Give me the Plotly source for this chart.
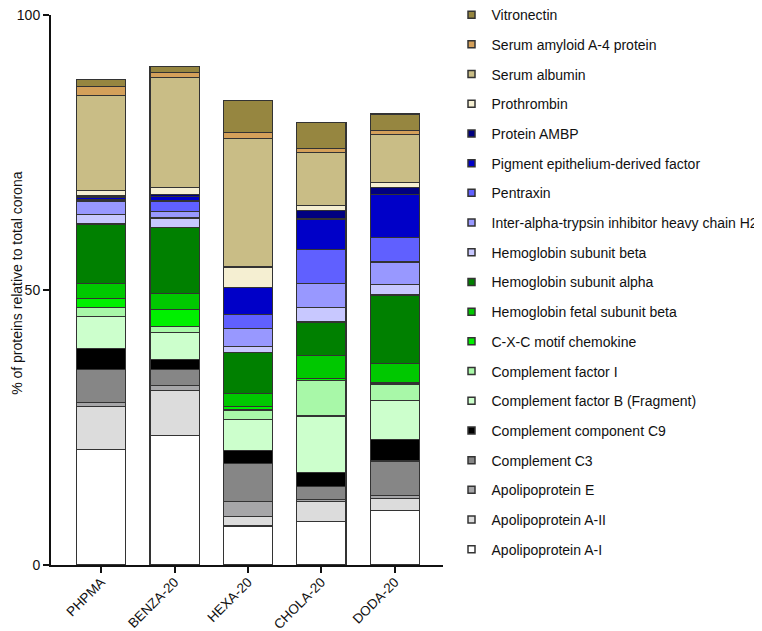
import plotly.graph_objects as go

categories = ["PHPMA", "BENZA-20", "HEXA-20", "CHOLA-20", "DODA-20"]

proteins = [
    "Apolipoprotein A-I",
    "Apolipoprotein A-II",
    "Apolipoprotein E",
    "Complement C3",
    "Complement component C9",
    "Complement factor B (Fragment)",
    "Complement factor I",
    "C-X-C motif chemokine",
    "Hemoglobin fetal subunit beta",
    "Hemoglobin subunit alpha",
    "Hemoglobin subunit beta",
    "Inter-alpha-trypsin inhibitor heavy chain H2",
    "Pentraxin",
    "Pigment epithelium-derived factor",
    "Protein AMBP",
    "Prothrombin",
    "Serum albumin",
    "Serum amyloid A-4 protein",
    "Vitronectin",
]

y_title = "% of proteins relative to total corona"

apoa1 = [21.0, 23.6, 7.1, 7.9, 9.9]
apoa2 = [7.8, 8.1, 1.7, 3.7, 2.2]
apoe = [0.8, 1.0, 2.7, 0.3, 0.6]
c3 = [5.9, 2.8, 7.0, 2.4, 6.2]
c9 = [3.8, 1.8, 2.3, 2.5, 3.9]
factor_b = [5.9, 5.0, 5.7, 10.3, 7.1]
factor_i = [1.6, 1.1, 1.7, 6.5, 3.0]
cxc = [1.7, 3.1, 0.6, 0.3, 0.3]
hb_fetal = [2.7, 2.8, 2.4, 4.2, 3.5]
hb_alpha = [10.8, 12.0, 7.5, 6.1, 12.4]
hb_beta = [1.8, 1.8, 1.1, 2.6, 1.9]
itih2 = [2.4, 1.2, 3.2, 4.4, 4.1]
pentraxin = [0.2, 1.9, 2.5, 6.2, 4.4]
pedf = [0.4, 0.8, 4.9, 5.5, 7.8]
ambp = [0.3, 0.4, 0.0, 1.5, 1.4]
prothrombin = [1.0, 1.3, 3.8, 1.0, 0.8]
albumin = [17.3, 19.9, 23.3, 9.6, 8.8]
amyloid = [1.6, 0.9, 1.1, 0.8, 0.7]
vitronectin = [1.3, 1.1, 5.9, 4.6, 3.0]

series = [apoa1, apoa2, apoe, c3, c9, factor_b, factor_i, cxc, hb_fetal,
          hb_alpha, hb_beta, itih2, pentraxin, pedf, ambp, prothrombin,
          albumin, amyloid, vitronectin]

colors = [
    "#ffffff", "#dcdcdc", "#a6a6a8", "#868686", "#000000",
    "#ccffcc", "#a8f8a8", "#00f000", "#00c800", "#008000",
    "#c8c8ff", "#9898ff", "#6060ff", "#0000c8", "#000080",
    "#f5efd2", "#c9bd86", "#d4a05a", "#968640",
]

fig = go.Figure()

for name, vals, col in zip(proteins, series, colors):
    fig.add_trace(go.Bar(
        x=categories, y=vals, name=name,
        marker=dict(color=col, line=dict(color="#333333", width=1.2)),
        width=0.668, showlegend=False,
    ))

# legend entries, top to bottom = last stacked to first stacked
for name, col in reversed(list(zip(proteins, colors))):
    fig.add_trace(go.Scatter(
        x=[None], y=[None], mode="markers", name=name, legendgroup=name,
        marker=dict(symbol="square", size=7, color=col,
                    line=dict(color="#333333", width=1.5)),
    ))

font_family = "Liberation Sans, Arial, sans-serif"

# the page body adds an 8px margin, so the figure is sized to fit the window
fig.update_layout(
    width=754, height=623,
    barmode="stack",
    plot_bgcolor="white", paper_bgcolor="white",
    margin=dict(l=43, r=319, t=7, b=66, autoexpand=False),
    font=dict(family=font_family, size=14, color="#111111"),
    showlegend=True,
    legend=dict(
        traceorder="grouped",
        x=1.0217, xanchor="left", y=1.029, yanchor="top",
        font=dict(family=font_family, size=14, color="#111111"),
        tracegroupgap=8.5, itemsizing="trace",
        bgcolor="rgba(0,0,0,0)", maxheight=1.0,
    ),
    xaxis=dict(
        range=[-0.684, 4.657], showgrid=False, zeroline=False,
        showline=True, linecolor="#111111", linewidth=2,
        ticks="outside", ticklen=6, tickwidth=2, tickcolor="#111111",
        tickangle=-45, tickfont=dict(size=13.5, color="#111111"),
        automargin=False, ticklabeloverflow="allow", ticklabelstandoff=-4,
    ),
    yaxis=dict(
        range=[0, 100], tickvals=[0, 50, 100], showgrid=False, zeroline=False,
        showline=True, linecolor="#111111", linewidth=2,
        ticks="outside", ticklen=6, tickwidth=2, tickcolor="#111111",
        tickfont=dict(size=14, color="#111111"), automargin=False,
        ticklabeloverflow="allow",
    ),
    annotations=[dict(
        text=y_title, textangle=-90, showarrow=False,
        xref="paper", yref="paper", x=-0.0867, y=0.513,
        xanchor="center", yanchor="middle",
        font=dict(family=font_family, size=14, color="#111111"),
    )],
)

fig.write_html("out.html")
